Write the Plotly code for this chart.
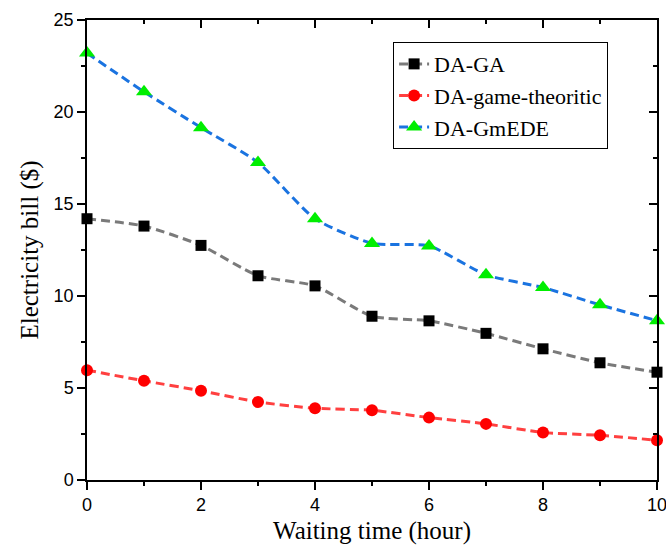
import plotly.graph_objects as go

waiting_time = [0, 1, 2, 3, 4, 5, 6, 7, 8, 9, 10]
da_ga = [14.2, 13.8, 12.75, 11.1, 10.55, 8.9, 8.65, 7.97, 7.13, 6.37, 5.86]
da_game = [5.97, 5.39, 4.85, 4.24, 3.9, 3.79, 3.39, 3.05, 2.58, 2.43, 2.16]
da_gmede = [23.2, 21.1, 19.15, 17.26, 14.2, 12.86, 12.72, 11.15, 10.46, 9.52, 8.66]

series = [
    ("DA-GA", da_ga, "#7a7a7a", "black", "square", 11),
    ("DA-game-theoritic", da_game, "#ff4040", "#ff0000", "circle", 12),
    ("DA-GmEDE", da_gmede, "#1a73e0", "#00ee00", "triangle-up", 14),
]

fig = go.Figure()
for name, ys, lc, mc, sym, ms in series:
    fig.add_trace(go.Scatter(
        x=waiting_time, y=ys, name=name, mode="lines+markers",
        line=dict(color=lc, width=3, dash="9px,5px", shape="spline", smoothing=0.6),
        marker=dict(color=mc, symbol=sym, size=ms, line=dict(width=0)),
        cliponaxis=False,
    ))

# dummy trace for mirrored top/right axes
fig.add_trace(go.Scatter(x=[None], y=[None], xaxis="x2", yaxis="y2",
                         showlegend=False, hoverinfo="skip"))

tickfont = dict(family="Liberation Sans, Arial", size=18, color="black")
serif = "Liberation Serif, Times New Roman"

fig.update_layout(
    width=666, height=545,
    margin=dict(l=87, r=9, t=20, b=65),
    paper_bgcolor="white", plot_bgcolor="white",
    showlegend=True,
    legend=dict(
        x=0.537, y=0.952, xanchor="left", yanchor="top",
        bordercolor="black", borderwidth=1, bgcolor="white",
        font=dict(family=serif, size=22, color="black"),
        itemwidth=30, tracegroupgap=0,
    ),
    xaxis=dict(
        range=[0, 10], tickvals=[0, 2, 4, 6, 8, 10], showgrid=False, zeroline=False,
        showline=True, linecolor="black", linewidth=1.5,
        ticks="outside", ticklen=8, tickwidth=1.5, tickcolor="black",
        ticklabeloverflow="allow", automargin=False,
        minor=dict(dtick=1, ticks="outside", ticklen=4, tickwidth=1.5, tickcolor="black", showgrid=False),
        tickfont=tickfont,
        title=dict(text="Waiting time (hour)", font=dict(family=serif, size=25, color="black"), standoff=8),
    ),
    yaxis=dict(
        range=[0, 25], dtick=5, tick0=0, showgrid=False, zeroline=False,
        showline=True, linecolor="black", linewidth=1.5,
        ticks="outside", ticklen=8, tickwidth=1.5, tickcolor="black",
        automargin=False,
        minor=dict(dtick=2.5, ticks="outside", ticklen=4, tickwidth=1.5, tickcolor="black", showgrid=False),
        tickfont=tickfont,
        title=dict(text="Electricity bill ($)", font=dict(family=serif, size=25, color="black"), standoff=8),
    ),
    xaxis2=dict(
        range=[0, 10], tickvals=[0, 2, 4, 6, 8, 10], overlaying="x", side="top", anchor="y",
        showgrid=False, zeroline=False, showticklabels=False, automargin=False,
        showline=True, linecolor="black", linewidth=1.5,
        ticks="inside", ticklen=8, tickwidth=1.5, tickcolor="black",
        minor=dict(dtick=1, ticks="inside", ticklen=4, tickwidth=1.5, tickcolor="black", showgrid=False),
    ),
    yaxis2=dict(
        range=[0, 25], dtick=5, tick0=0, overlaying="y", side="right", anchor="x",
        showgrid=False, zeroline=False, showticklabels=False, automargin=False,
        showline=True, linecolor="black", linewidth=1.5,
        ticks="inside", ticklen=8, tickwidth=1.5, tickcolor="black",
        minor=dict(dtick=2.5, ticks="inside", ticklen=4, tickwidth=1.5, tickcolor="black", showgrid=False),
    ),
)

fig.write_html("out.html")
